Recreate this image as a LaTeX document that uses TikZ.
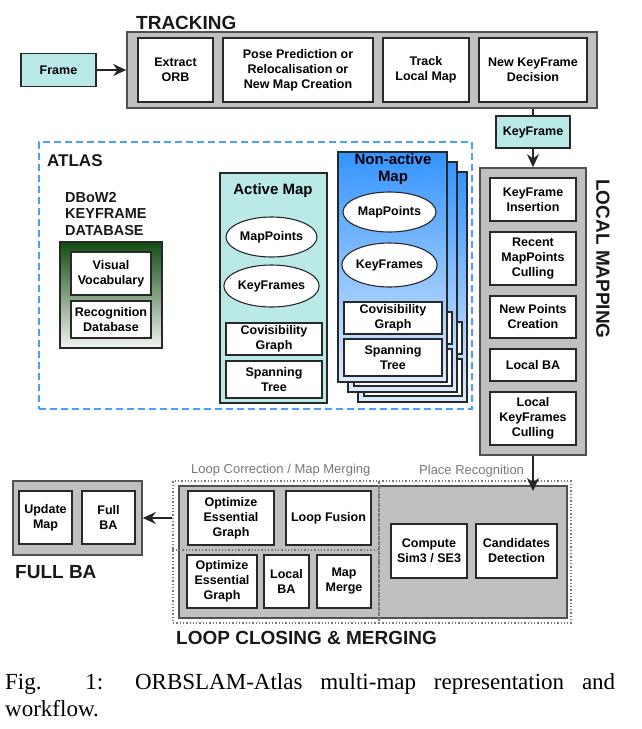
\documentclass[tikz,border=0pt]{standalone}
\usepackage{fontspec}
\setmainfont{Liberation Serif}
\newfontfamily\diafont{Liberation Sans}
\usetikzlibrary{shapes.geometric, arrows.meta}

\definecolor{stagegray}{RGB}{192,192,192}
\definecolor{stageline}{RGB}{80,80,80}
\definecolor{taskline}{RGB}{40,40,40}
\definecolor{mapcyan}{RGB}{186,234,232}
\definecolor{atlasblue}{RGB}{74,158,255}
\definecolor{natop}{RGB}{52,148,255}
\definecolor{nabottom}{RGB}{220,235,255}
\definecolor{dbgreen}{RGB}{18,78,18}
\definecolor{dbpale}{RGB}{242,244,242}
\definecolor{notegray}{RGB}{120,120,120}

\newcommand\boxfont{\diafont\bfseries\fontsize{12.5}{15}\selectfont}

\tikzset{
  sz/.style 2 args={minimum width=#1pt, minimum height=#2pt},
  stage/.style={draw=stageline, fill=stagegray, line width=1.6pt, inner sep=0pt},
  task/.style={draw=taskline, fill=white, line width=1.3pt, align=center, font=\boxfont, inner sep=0pt},
  cyanbox/.style={task, fill=mapcyan},
  blob/.style={ellipse, draw=taskline, fill=white, line width=1.1pt, font=\boxfont, inner sep=0pt},
  mapbox/.style={draw=taskline, line width=1.4pt, inner sep=0pt},
  nashade/.style={top color=natop, bottom color=nabottom},
  dbbox/.style={draw=taskline, line width=1.3pt, top color=dbgreen, bottom color=dbpale, inner sep=0pt},
  atlasframe/.style={draw=atlasblue, line width=2.6pt, dash pattern=on 7pt off 4pt, inner sep=0pt},
  dotbox/.style={draw=notegray, dotted, line width=1.3pt, inner sep=0pt},
  title/.style={font=\diafont\bfseries\fontsize{19}{22}\selectfont, text=black!90, inner sep=0pt},
  maptitle/.style={font=\diafont\bfseries\fontsize{15}{17}\selectfont, align=center, inner sep=0pt},
  note/.style={font=\diafont\fontsize{13}{15}\selectfont, text=notegray, inner sep=0pt},
  arr/.style={-{Stealth[length=13pt,width=12pt]}, line width=1.7pt, draw=black!85},
  link/.style={line width=1.7pt, draw=black!85}
}

\begin{document}
\begin{tikzpicture}[x=1pt, y=-1pt]
    \useasboundingbox (0,0) rectangle (642,729);

    % tracking
    \node[stage, sz={470}{76}] (trk) at (362,70) {};
    \node[task, sz={75}{64}] (exorb) at (175.5,70) {Extract\\ORB};
    \node[task, sz={150}{64}] (pose) at (298,70) {Pose Prediction or\\Relocalisation or\\New Map Creation};
    \node[task, sz={86}{64}] (tlm) at (426,70) {Track\\Local Map};
    \node[task, sz={108}{64}] (nkd) at (533,70) {New KeyFrame\\Decision};
    \node[title, anchor=base west] (trklabel) at (136,29) {TRACKING};
    \node[cyanbox, sz={75}{33}] (frame) at (58.5,70) {Frame};
    \node[cyanbox, sz={74}{32}] (kf) at (533,132) {KeyFrame};

    % local mapping
    \node[stage, sz={106}{287}] (lm) at (533,311.5) {};
    \node[task, sz={86}{43}] (kfi) at (533,199.5) {KeyFrame\\Insertion};
    \node[task, sz={86}{53}] (rmc) at (533,258.5) {Recent\\MapPoints\\Culling};
    \node[task, sz={86}{42}] (npc) at (533,317) {New Points\\Creation};
    \node[task, sz={86}{32}] (lmba) at (533,365) {Local BA};
    \node[task, sz={86}{53}] (lkc) at (533,418.5) {Local\\KeyFrames\\Culling};
    \node[title, rotate=-90] (lmlabel) at (603,259) {LOCAL MAPPING};

    % atlas
    \node[atlasframe, sz={433}{267}] (atlas) at (255.5,275.5) {};
    \node[title, font=\diafont\bfseries\fontsize{17}{20}\selectfont, anchor=base west] (atlaslabel) at (47,166) {ATLAS};
    \node[title, font=\diafont\bfseries\fontsize{14.5}{16.5}\selectfont, align=left, anchor=north west] (dblabel) at (65,192) {DBoW2\\KEYFRAME\\DATABASE};
    \node[dbbox, sz={102}{106}] (db) at (111,295) {};
    \node[task, sz={80}{43}] (vv) at (111,273.5) {Visual\\Vocabulary};
    \node[task, sz={80}{37}] (rdb) at (111,319.5) {Recognition\\Database};

    % active map
    \node[mapbox, fill=mapcyan, sz={107}{230}] (amap) at (273.5,288) {};
    \node[maptitle] (amaplabel) at (273,191) {Active Map};
    \node[blob, sz={91}{40}] (amp) at (271.5,237) {MapPoints};
    \node[blob, sz={91}{42}] (akf) at (271.5,286) {KeyFrames};
    \node[task, sz={96}{32}] (acg) at (274,339) {Covisibility\\Graph};
    \node[task, sz={96}{37}] (ast) at (274,379.5) {Spanning\\Tree};

    % non-active maps, back copies first
    \foreach \d in {20,10}{
        \node[mapbox, nashade, sz={109}{230}] (na\d) at (392.5+\d,267+\d) {};
        \node[task, sz={98}{32}] (ncg\d) at (393+\d,318+\d) {};
        \node[task, sz={98}{37}] (nst\d) at (393+\d,357.5+\d) {};
    }
    \node[mapbox, nashade, sz={109}{230}] (na) at (392.5,267) {};
    \node[maptitle] (nalabel) at (393,169) {Non-active\\Map};
    \node[blob, sz={93}{40}] (nmp) at (389.5,212) {MapPoints};
    \node[blob, sz={93}{44}] (nkf) at (389.5,265) {KeyFrames};
    \node[task, sz={98}{32}] (ncg) at (393,318) {Covisibility\\Graph};
    \node[task, sz={98}{37}] (nst) at (393,357.5) {Spanning\\Tree};

    % full BA
    \node[stage, sz={129}{74}] (fba) at (77.5,518) {};
    \node[task, sz={53}{53}] (upd) at (45.5,517.5) {Update\\Map};
    \node[task, sz={53}{53}] (fullba) at (108.5,517.5) {Full\\BA};
    \node[title, anchor=base west] (fbalabel) at (15,578) {FULL BA};

    % loop closing and merging
    \node[stage, sz={388}{132}] (lc) at (373,552) {};
    \node[dotbox, sz={206}{142}] (lcm) at (276,552) {};
    \node[dotbox, sz={192}{142}] (pr) at (475,552) {};
    \draw[dotted, draw=notegray, line width=1.3pt] ([yshift=2pt]lcm.west) -- ([yshift=2pt]lcm.east);
    \node[task, sz={86}{54}] (oega) at (231,518) {Optimize\\Essential\\Graph};
    \node[task, sz={85}{54}] (lfu) at (328.5,518) {Loop Fusion};
    \node[task, sz={70}{53}] (oegb) at (222,581.5) {Optimize\\Essential\\Graph};
    \node[task, sz={45}{53}] (lcba) at (286.5,581.5) {Local\\BA};
    \node[task, sz={54}{53}] (mm) at (344,581.5) {Map\\Merge};
    \node[task, sz={76}{54}] (sim) at (429,551) {Compute\\Sim3 / SE3};
    \node[task, sz={81}{54}] (cand) at (516.5,551) {Candidates\\Detection};
    \node[note, anchor=base west] (lcmlabel) at (191,473) {Loop Correction / Map Merging};
    \node[note, anchor=base west] (prlabel) at (419,474) {Place Recognition};
    \node[title, anchor=base west] (lclabel) at (176,644) {LOOP CLOSING \& MERGING};

    % connectors
    \coordinate (prin) at (533,491);
    \draw[arr] (frame) -- (trk);
    \draw[link] (kf) -- (kf |- trk.south);
    \draw[arr] (kf) -- (lm);
    \draw[arr] (lm) -- (prin);
    \draw[arr] (fba -| lcm.west) -- (fba);

    % caption
    \node[anchor=base west, text width=610pt, align=justify, inner sep=0pt, font=\fontsize{23}{27}\selectfont] (caption) at (5,689)
        {Fig. 1: ORBSLAM-Atlas multi-map representation and\linebreak workflow.};
\end{tikzpicture}
\end{document}
